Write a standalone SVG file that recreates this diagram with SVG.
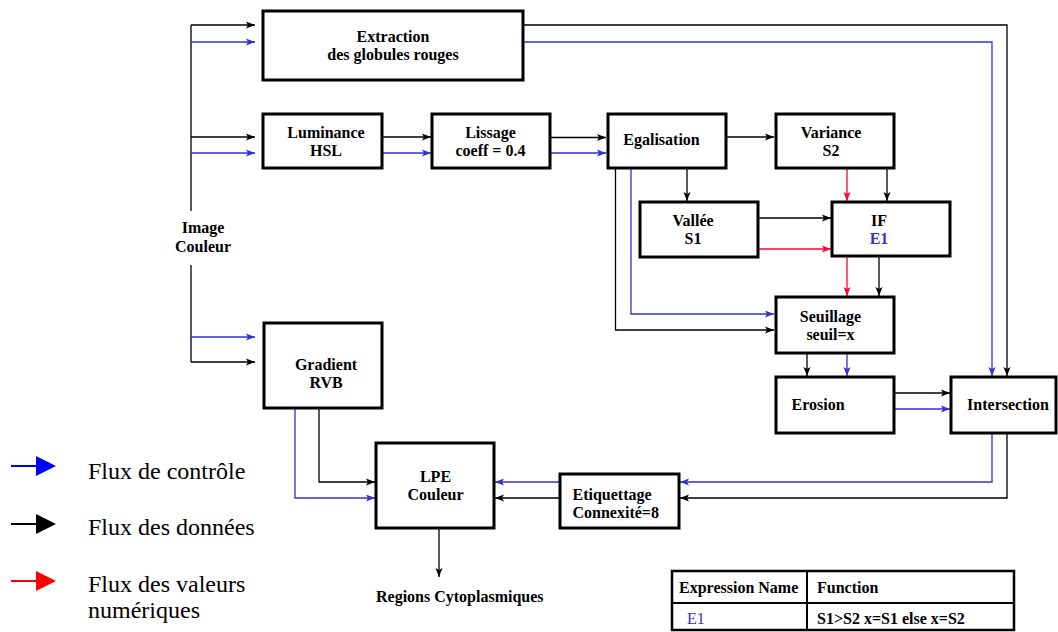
<svg xmlns="http://www.w3.org/2000/svg" width="1058" height="632" viewBox="0 0 1058 632">
<style>
.box{fill:#fff;stroke:#000;stroke-width:3}
.t{font-family:"Liberation Serif","Times New Roman",serif;font-weight:bold;font-size:16px;fill:#000;text-anchor:middle}
.tl{font-family:"Liberation Serif","Times New Roman",serif;font-weight:bold;font-size:16px;fill:#000}
.leg{font-family:"Liberation Serif","Times New Roman",serif;font-size:24px;fill:#000}
.k{fill:none;stroke:#000;stroke-width:1.3}
.b{fill:none;stroke:#3333cc;stroke-width:1.3}
.r{fill:none;stroke:#ff0033;stroke-width:1.3}
.ka{marker-end:url(#mk)}
.ba{marker-end:url(#mb)}
.ra{marker-end:url(#mr)}
</style>
<defs>
<marker id="mk" markerUnits="userSpaceOnUse" markerWidth="10" markerHeight="8" refX="9" refY="4" orient="auto"><path d="M0,0.5 L9,4 L0,7.5 L2,4 Z" fill="#000"/></marker>
<marker id="mb" markerUnits="userSpaceOnUse" markerWidth="10" markerHeight="8" refX="9" refY="4" orient="auto"><path d="M0,0.5 L9,4 L0,7.5 L2,4 Z" fill="#3333cc"/></marker>
<marker id="mr" markerUnits="userSpaceOnUse" markerWidth="10" markerHeight="8" refX="9" refY="4" orient="auto"><path d="M0,0.5 L9,4 L0,7.5 L2,4 Z" fill="#ff0033"/></marker>
</defs>
<rect width="1058" height="632" fill="#fff"/>

<g id="connectors">
<path class="k" d="M191,25 V211 M191,265 V362"/>
<path class="k ka" d="M191,25 H255"/>
<path class="b ba" d="M191,42 H255"/>
<path class="k ka" d="M191,137 H255"/>
<path class="b ba" d="M191,153 H255"/>
<path class="b ba" d="M191,337 H255"/>
<path class="k ka" d="M191,362 H255"/>
<path class="k ka" d="M382,137 H431"/>
<path class="b ba" d="M382,153 H431"/>
<path class="k ka" d="M550,137.5 H606"/>
<path class="b ba" d="M550,153 H606"/>
<path class="k ka" d="M726,137 H774"/>
<path class="k ka" d="M687,168 V201"/>
<path class="k ka" d="M615.5,168 V330 H774"/>
<path class="b ba" d="M631,168 V314 H774"/>
<path class="r ra" d="M847,168 V201"/>
<path class="k ka" d="M887,168 V201"/>
<path class="k ka" d="M758,218 H831"/>
<path class="r ra" d="M758,249 H831"/>
<path class="r ra" d="M847,256 V296"/>
<path class="k ka" d="M879,256 V296"/>
<path class="k ka" d="M807,353 V376"/>
<path class="b ba" d="M847,353 V376"/>
<path class="k ka" d="M894,393 H950"/>
<path class="b ba" d="M894,409 H950"/>
<path class="k ka" d="M523,25 H1007 V376"/>
<path class="b ba" d="M523,42 H992 V376"/>
<path class="b ba" d="M992,433 V482 H680"/>
<path class="k ka" d="M1007,433 V498 H680"/>
<path class="b ba" d="M560,482 H495"/>
<path class="k ka" d="M560,498 H495"/>
<path class="k ka" d="M319,408 V482 H375"/>
<path class="b ba" d="M295,408 V498 H375"/>
<path class="k ka" d="M439,528 V577"/>
</g>

<g id="image-couleur">
<text class="t" x="203" y="233">Image</text>
<text class="t" x="203" y="252">Couleur</text>
</g>

<g id="extraction">
<rect class="box" x="263" y="11" width="260" height="69"/>
<text class="t" x="393" y="42">Extraction</text>
<text class="t" x="393" y="60">des globules rouges</text>
</g>

<g id="luminance">
<rect class="box" x="263" y="114" width="119" height="54"/>
<text class="t" x="326" y="138">Luminance</text>
<text class="t" x="326" y="156">HSL</text>
</g>

<g id="lissage">
<rect class="box" x="432" y="114" width="118" height="54"/>
<text class="t" x="490.5" y="138">Lissage</text>
<text class="t" x="490.5" y="156">coeff = 0.4</text>
</g>

<g id="egalisation">
<rect class="box" x="608" y="114" width="118" height="54"/>
<text class="t" x="661.5" y="145">Egalisation</text>
</g>

<g id="variance">
<rect class="box" x="776" y="114" width="118" height="54"/>
<text class="t" x="831" y="138">Variance</text>
<text class="t" x="831" y="156">S2</text>
</g>

<g id="vallee">
<rect class="box" x="640" y="202" width="118" height="55"/>
<text class="t" x="693" y="226">Vallée</text>
<text class="t" x="693" y="244">S1</text>
</g>

<g id="if">
<rect class="box" x="832" y="202" width="118" height="54"/>
<text class="t" x="879" y="226">IF</text>
<text class="t" x="879" y="244" style="fill:#3333cc">E1</text>
</g>

<g id="seuillage">
<rect class="box" x="776" y="297" width="118" height="56"/>
<text class="t" x="830.5" y="322">Seuillage</text>
<text class="t" x="830.5" y="340">seuil=x</text>
</g>

<g id="erosion">
<rect class="box" x="776" y="377" width="118" height="56"/>
<text class="t" x="818" y="410">Erosion</text>
</g>

<g id="intersection">
<rect class="box" x="951" y="377" width="105" height="56"/>
<text class="t" x="1008" y="410">Intersection</text>
</g>

<g id="gradient">
<rect class="box" x="264" y="323" width="118" height="85"/>
<text class="t" x="326" y="370">Gradient</text>
<text class="t" x="326" y="388">RVB</text>
</g>

<g id="lpe">
<rect class="box" x="376" y="443" width="118" height="85"/>
<text class="t" x="435.5" y="482">LPE</text>
<text class="t" x="435.5" y="500">Couleur</text>
</g>

<g id="etiquettage">
<rect class="box" x="560" y="474" width="119" height="54"/>
<text class="tl" x="572.5" y="500">Etiquettage</text>
<text class="tl" x="572.5" y="518">Connexité=8</text>
</g>

<g id="regions">
<text class="tl" x="376" y="602">Regions Cytoplasmiques</text>
</g>

<g id="legend">
<line x1="11" y1="466" x2="38" y2="466" stroke="#0000ff" stroke-width="2"/>
<polygon points="36,456 56,466 36,476" fill="#0000ff"/>
<text class="leg" x="88" y="479">Flux de contrôle</text>
<line x1="11" y1="524" x2="38" y2="524" stroke="#000" stroke-width="2"/>
<polygon points="36,514 56,524 36,534" fill="#000"/>
<text class="leg" x="88" y="535">Flux des données</text>
<line x1="11" y1="581" x2="38" y2="581" stroke="#ff0000" stroke-width="2"/>
<polygon points="36,571 56,581 36,591" fill="#ff0000"/>
<text class="leg" x="88" y="592">Flux des valeurs</text>
<text class="leg" x="88" y="618">numériques</text>
</g>

<g id="table">
<rect x="672" y="571" width="342" height="59" fill="#fff" stroke="#000" stroke-width="2.5"/>
<line x1="672" y1="603" x2="1014" y2="603" stroke="#000" stroke-width="2"/>
<line x1="807" y1="571" x2="807" y2="630" stroke="#000" stroke-width="2"/>
<text class="tl" x="679" y="593">Expression Name</text>
<text class="tl" x="817" y="593">Function</text>
<text x="687" y="624" style="font-family:'Liberation Serif','Times New Roman',serif;font-size:16px;fill:#3333cc">E1</text>
<text class="tl" x="817" y="624">S1&gt;S2 x=S1 else x=S2</text>
</g>
</svg>
